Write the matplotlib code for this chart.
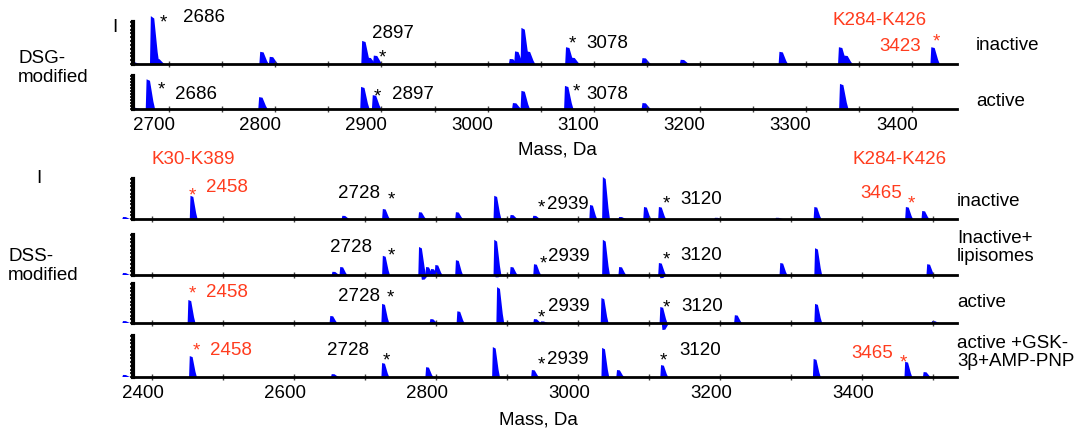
import numpy as np
import matplotlib
matplotlib.use("Agg")
import matplotlib.pyplot as plt
from matplotlib.ticker import MultipleLocator, NullFormatter
from matplotlib.transforms import ScaledTranslation

plt.rcParams["font.family"] = ["Liberation Sans", "DejaVu Sans"]

# =============================================================================
# DATA - peak masses (Da) and relative intensities
# =============================================================================

# DSG-modified, inactive
dsg_inact_mass = [2668, 2686, 2691, 2789, 2798, 2885, 2890, 2896, 3024, 3029,
                  3035, 3040, 3077, 3082, 3149, 3185, 3278, 3334, 3339, 3421]
dsg_inact_int = [0.04, 1.14, 0.12, 0.29, 0.17, 0.55, 0.15, 0.2, 0.12, 0.3,
                 0.86, 0.3, 0.4, 0.15, 0.14, 0.1, 0.29, 0.4, 0.2, 0.4]

# DSG-modified, active
dsg_act_mass = [2668, 2682, 2788, 2884, 2895, 3027, 3035, 3076, 3149, 3335]
dsg_act_int = [0.04, 0.9, 0.36, 0.67, 0.42, 0.18, 0.55, 0.7, 0.18, 0.76]

# DSS-modified, inactive
dss_inact_mass = [2363, 2458, 2672, 2729, 2780, 2832, 2886, 2909, 2941, 3021,
                  3039, 3062, 3097, 3118, 3197, 3283, 3337, 3466, 3489]
dss_inact_int = [0.05, 0.58, 0.08, 0.25, 0.17, 0.17, 0.58, 0.1, 0.08, 0.35,
                 1.05, 0.05, 0.3, 0.3, 0.03, 0.03, 0.3, 0.3, 0.2]

# DSS-modified, inactive + liposomes
dss_lipo_mass = [2363, 2658, 2669, 2729, 2780, 2784, 2790, 2797, 2803, 2832,
                 2886, 2888, 2909, 2942, 3039, 3062, 3118, 3120, 3289, 3338, 3496]
dss_lipo_int = [0.05, 0.08, 0.2, 0.48, 0.7, -0.12, 0.2, 0.15, 0.25, 0.37,
                0.88, -0.06, 0.2, 0.27, 0.88, 0.2, 0.3, -0.08, 0.3, 0.67, 0.27]

# DSS-modified, active
dss_act_mass = [2363, 2455, 2655, 2728, 2796, 2834, 2890, 2942, 2952, 3037,
                3120, 3123, 3225, 3338, 3503]
dss_act_int = [0.05, 0.59, 0.18, 0.49, 0.1, 0.3, 0.92, 0.1, 0.04, 0.64,
               0.41, -0.18, 0.2, 0.49, 0.05]

# DSS-modified, active + GSK-3beta + AMP-PNP
dss_gsk_mass = [2363, 2457, 2657, 2728, 2790, 2884, 2939, 3038, 3059, 3121,
                3336, 3465, 3491]
dss_gsk_int = [0.05, 0.51, 0.07, 0.34, 0.24, 0.73, 0.17, 0.71, 0.17, 0.29,
               0.44, 0.37, 0.12]

top_labels = ["inactive", "active"]
bottom_labels = ["inactive", "Inactive+\nlipisomes", "active",
                 "active +GSK-\n3\u03b2+AMP-PNP"]

BLUE = "#0000ff"
RED = "#ff3c1e"
FS = 13.5

W, H = 1086, 435
fig = plt.figure(figsize=(W / 100, H / 100), dpi=100)


def px_axes(left, right, top, bottom):
    # axes placed from pixel edges of the reference
    return fig.add_axes([left / W, 1 - bottom / H, (right - left) / W, (bottom - top) / H])


def draw_peaks(ax, masses, heights, width):
    # each peak: steep rise on the left, tapering tail on the right
    rel_x = np.array([-0.5, -0.4, 0.0, 0.2, 0.4, 0.6])
    rel_y = np.array([0.0, 1.0, 0.95, 0.6, 0.25, 0.0])
    for m, h in zip(masses, heights):
        ax.fill(m + rel_x * width, rel_y * h, color=BLUE, lw=0, clip_on=False)


def style_axes(ax, xlim, major, minor, labelled, label_shift):
    ax.set_xlim(*xlim)
    ax.set_ylim(0, 1)
    for s in ["top", "right"]:
        ax.spines[s].set_visible(False)
    ax.spines["bottom"].set_linewidth(2.0)
    ax.spines["left"].set_linewidth(3.0)
    ax.set_yticks(np.linspace(0, 1, 12))
    ax.yaxis.set_major_formatter(NullFormatter())
    ax.tick_params(axis="y", direction="out", length=2.5, width=1.2)
    ax.xaxis.set_major_locator(MultipleLocator(major))
    ax.xaxis.set_minor_locator(MultipleLocator(minor))
    ax.tick_params(axis="x", which="both", direction="inout", length=4, width=1,
                   color="#444444", labelsize=FS, pad=3)
    if not labelled:
        ax.xaxis.set_major_formatter(NullFormatter())
    else:
        shift = ScaledTranslation(label_shift / 100, 0, fig.dpi_scale_trans)
        for lab in ax.get_xticklabels():
            lab.set_transform(lab.get_transform() + shift)
    ax.set_facecolor("none")


def num(ax, txt, m, h, color="black"):
    ax.text(m, h, txt, ha="center", va="center", fontsize=FS, color=color)


def star(ax, m, h, color="black"):
    off = ScaledTranslation(0, -5.5 / 100, fig.dpi_scale_trans)
    ax.text(m, h, "*", ha="center", va="center", fontsize=FS, color=color,
            transform=ax.transData + off)


# ---------------- DSG group ----------------
top_xlim = (2666, 3442)
t1 = px_axes(133, 957, 23, 65)
t2 = px_axes(133, 957, 77, 110)
draw_peaks(t1, dsg_inact_mass, dsg_inact_int, 8)
draw_peaks(t2, dsg_act_mass, dsg_act_int, 8)
style_axes(t1, top_xlim, 100, 50, False, 0)
style_axes(t2, top_xlim, 100, 50, True, -15.5)

star(t1, 2694.5, 1.14); num(t1, "2686", 2733, 1.14)
num(t1, "2897", 2911, 0.76); star(t1, 2901, 0.31)
star(t1, 3080, 0.64); num(t1, "3078", 3113, 0.52)
num(t1, "K284-K426", 3369, 1.05, RED); num(t1, "3423", 3388, 0.43, RED)
star(t1, 3423, 0.67, RED)

star(t2, 2693, 0.76); num(t2, "2686", 2725, 0.48)
star(t2, 2896, 0.55); num(t2, "2897", 2930, 0.48)
star(t2, 3084, 0.7); num(t2, "3078", 3113, 0.48)

for lab, yc in zip(top_labels, [45, 102]):
    fig.text(976 / W, 1 - yc / H, lab, fontsize=FS, va="center", ha="left")
fig.text(557 / W, 1 - 150 / H, "Mass, Da", fontsize=FS, ha="center", va="center")
fig.text(18 / W, 1 - 68 / H, "DSG-\nmodified", fontsize=FS, ha="left", va="center",
         linespacing=1.15)
fig.text(115 / W, 1 - 27 / H, "I", fontsize=FS, ha="center", va="center")

# ---------------- DSS group ----------------
bot_xlim = (2373, 3534)
edges = [(180, 220), (236, 276), (285, 324), (337, 378)]
spectra = [(dss_inact_mass, dss_inact_int), (dss_lipo_mass, dss_lipo_int),
           (dss_act_mass, dss_act_int), (dss_gsk_mass, dss_gsk_int)]
baxes = []
for i, ((top, bot), (ms, ints)) in enumerate(zip(edges, spectra)):
    ax = px_axes(133, 957, top, bot)
    draw_peaks(ax, ms, ints, 10)
    style_axes(ax, bot_xlim, 200, 100, i == 3, -9)
    baxes.append(ax)
b1, b2, b3, b4 = baxes

num(b1, "K30-K389", 2458, 1.5, RED); star(b1, 2456, 0.75, RED)
num(b1, "2458", 2506, 0.8, RED)
num(b1, "2728", 2692, 0.65); star(b1, 2737, 0.63)
star(b1, 2949, 0.43); num(b1, "2939", 2985, 0.38)
star(b1, 3124, 0.53); num(b1, "3120", 3173, 0.5)
num(b1, "K284-K426", 3453, 1.52, RED); num(b1, "3465", 3427, 0.65, RED)
star(b1, 3469, 0.55, RED)

num(b2, "2728", 2680, 0.7); star(b2, 2737, 0.65)
star(b2, 2951, 0.45); num(b2, "2939", 2987, 0.48)
star(b2, 3124, 0.55); num(b2, "3120", 3173, 0.52)

star(b3, 2456, 0.92, RED); num(b3, "2458", 2506, 0.8, RED)
num(b3, "2728", 2692, 0.7); star(b3, 2735, 0.8)
star(b3, 2948, 0.3); num(b3, "2939", 2987, 0.44)
star(b3, 3124, 0.56); num(b3, "3120", 3175, 0.44)

star(b4, 2462, 0.8, RED); num(b4, "2458", 2511, 0.68, RED)
num(b4, "2728", 2676, 0.66); star(b4, 2730, 0.54)
star(b4, 2948, 0.44); num(b4, "2939", 2985, 0.46)
star(b4, 3120, 0.54); num(b4, "3120", 3172, 0.68)
num(b4, "3465", 3415, 0.59, RED); star(b4, 3459, 0.49, RED)

for lab, yc in zip(bottom_labels, [202, 247.5, 303, 352.5]):
    fig.text(957 / W, 1 - yc / H, lab, fontsize=FS, va="center", ha="left",
             linespacing=1.15)
fig.text(538 / W, 1 - 420 / H, "Mass, Da", fontsize=FS, ha="center", va="center")
fig.text(8 / W, 1 - 266 / H, "DSS-\nmodified", fontsize=FS, ha="left", va="center",
         linespacing=1.15)
fig.text(39 / W, 1 - 179 / H, "I", fontsize=FS, ha="center", va="center")

fig.savefig("out.png", dpi=100)
